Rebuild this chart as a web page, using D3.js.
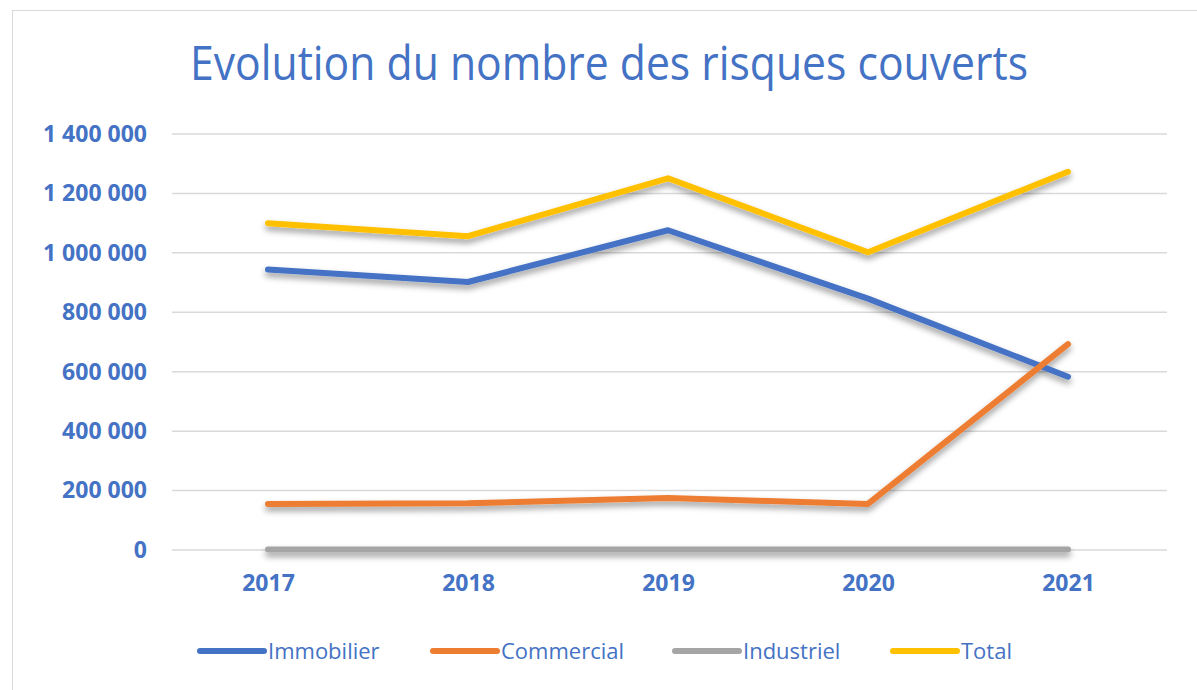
<!DOCTYPE html>
<html>
<head>
<meta charset="utf-8">
<script src="https://cdn.jsdelivr.net/npm/d3@7"></script>
<style>
  body { margin: 0; background: #fff; }
  text { font-family: "Liberation Sans Narrow", "Arial Narrow", "Open Sans", sans-serif; }
</style>
</head>
<body>
<div id="root"></div>
<script>
const years = ["2017", "2018", "2019", "2020", "2021"];
const immobilier = [944000, 902000, 1076000, 846000, 583000];
const commercial = [155000, 157000, 175000, 155000, 693000];
const industriel = [2000, 2000, 2000, 2000, 2000];
const total = [1100000, 1056000, 1251000, 1002000, 1273000];
const yTicks = [0, 200000, 400000, 600000, 800000, 1000000, 1200000, 1400000];

const seriesNames = ["Immobilier", "Commercial", "Industriel", "Total"];
const seriesColors = ["#4472C4", "#ED7D31", "#A5A5A5", "#FFC000"];
const series = [immobilier, commercial, industriel, total];

const outerWidth = 1197;
const outerHeight = 690;
const textBlue = "#4472C4";

let svg = d3.select("#root")
            .append("svg")
            .attr("width", outerWidth)
            .attr("height", outerHeight);

// shadow under the lines
let filter = svg.append("defs").append("filter")
                .attr("id", "shadow")
                .attr("x", "-10%").attr("y", "-50%")
                .attr("width", "120%").attr("height", "200%");
filter.append("feDropShadow")
      .attr("dx", 0).attr("dy", 4)
      .attr("stdDeviation", 3)
      .attr("flood-color", "#000")
      .attr("flood-opacity", 0.4);

// chart border
svg.append("rect")
   .attr("x", 12.5).attr("y", 10.5)
   .attr("width", 1200).attr("height", 700)
   .attr("fill", "#fff")
   .attr("stroke", "#d9d9d9");

svg.append("text")
   .attr("x", 190)
   .attr("y", 80)
   .attr("fill", textBlue)
   .attr("textLength", 838)
   .attr("lengthAdjust", "spacingAndGlyphs")
   .style("font-size", "47px")
   .text("Evolution du nombre des risques couverts");

let scaleX = d3.scalePoint().domain(years).range([168, 1168]).padding(0.5);
let scaleY = d3.scaleLinear().domain([0, 1400000]).range([550, 134]);

const fmt = v => d3.format(",")(v).replace(/,/g, " ");

// gridlines
svg.append("g")
   .selectAll("line")
   .data(yTicks)
   .enter().append("line")
     .attr("x1", 172).attr("x2", 1167)
     .attr("y1", d => scaleY(d)).attr("y2", d => scaleY(d))
     .attr("stroke", "#d9d9d9")
     .attr("stroke-width", 1.5);

let yAxis = d3.axisLeft(scaleY).tickValues(yTicks).tickFormat(fmt).tickSize(0).tickPadding(0);
svg.append("g")
   .attr("transform", "translate(147, 0)")
   .call(yAxis)
   .call(g => g.select(".domain").remove())
   .selectAll("text")
     .attr("fill", textBlue)
     .style("font-size", "23px")
     .style("font-weight", "bold");

let xAxis = d3.axisBottom(scaleX).tickSize(0).tickPadding(0);
svg.append("g")
   .attr("transform", "translate(0, 575)")
   .call(xAxis)
   .call(g => g.select(".domain").remove())
   .selectAll("text")
     .attr("fill", textBlue)
     .style("font-size", "23px")
     .style("font-weight", "bold");

let line = d3.line()
             .x((d, i) => scaleX(years[i]))
             .y(d => scaleY(d));

svg.append("g")
   .attr("filter", "url(#shadow)")
   .selectAll("path")
   .data(series)
   .enter().append("path")
     .attr("d", d => line(d))
     .attr("fill", "none")
     .attr("stroke", (d, i) => seriesColors[i])
     .attr("stroke-width", 6)
     .attr("stroke-linejoin", "round")
     .attr("stroke-linecap", "round");

// legend
const legendX = [200, 433, 675, 893];
let legend = svg.append("g")
                .selectAll("g")
                .data(seriesNames)
                .enter().append("g")
                .attr("transform", (d, i) => `translate(${legendX[i]}, 651)`);
legend.append("line")
      .attr("x1", 0).attr("x2", 64)
      .attr("stroke", (d, i) => seriesColors[i])
      .attr("stroke-width", 6)
      .attr("stroke-linecap", "round");
legend.append("text")
      .attr("x", 68)
      .attr("y", 8)
      .attr("fill", textBlue)
      .style("font-size", "22px")
      .text(d => d);
</script>
</body>
</html>
